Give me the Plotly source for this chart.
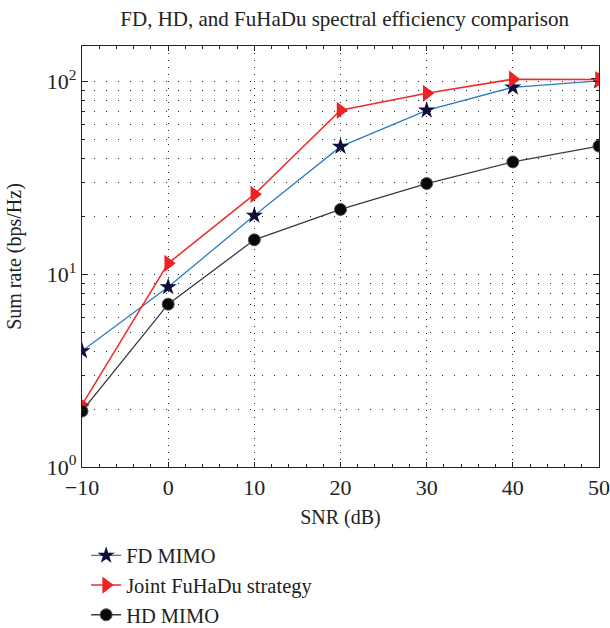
import plotly.graph_objects as go

snr = [-10, 0, 10, 20, 30, 40, 50]
fd_mimo = [4.0, 8.6, 20.2, 46, 71, 93.5, 101]
fuhadu = [2.1, 11.4, 26, 71, 87, 103, 102.5]
hd_mimo = [1.95, 7.0, 15.1, 21.7, 29.6, 38.3, 46.3]

x_ticks = [-10, 0, 10, 20, 30, 40, 50]
y_ticks = [1, 10, 100]
y_ticktext = ["10<sup>0</sup>", "10<sup>1</sup>", "10<sup>2</sup>"]
y_minor = [m * d for d in (1, 10) for m in range(2, 10)]

FONT = "Liberation Serif"

fig = go.Figure()
fig.add_trace(go.Scatter(
    x=snr, y=fd_mimo, name="FD MIMO", mode="lines+markers",
    line=dict(color="#2a7bc4", width=1.3),
    marker=dict(symbol="star", size=13, color="#0d0d3a", line=dict(width=0))))
fig.add_trace(go.Scatter(
    x=snr, y=fuhadu, name="Joint FuHaDu strategy", mode="lines+markers",
    line=dict(color="#ee2a2a", width=1.5),
    marker=dict(symbol="triangle-right", size=15, color="#ee2222", line=dict(width=0))))
fig.add_trace(go.Scatter(
    x=snr, y=hd_mimo, name="HD MIMO", mode="lines+markers",
    line=dict(color="#3a3a3a", width=1.3),
    marker=dict(symbol="circle", size=12, color="#080808", line=dict(color="#555555", width=1))))

fig.update_layout(
    width=610, height=628,
    margin=dict(l=82, r=11, t=46, b=161, autoexpand=False),
    paper_bgcolor="white", plot_bgcolor="white",
    font=dict(family=FONT, size=20, color="#222222"),
    title=dict(text="FD, HD, and FuHaDu spectral efficiency comparison",
               x=0.565, xref="container", xanchor="center",
               y=0.971, yref="container", yanchor="middle",
               font=dict(family=FONT, size=21, color="#222222")),
    showlegend=True,
    legend=dict(x=0.008, xanchor="left", y=-0.163, yanchor="top",
                bgcolor="rgba(0,0,0,0)", font=dict(family=FONT, size=20.5),
                itemwidth=30, tracegroupgap=0),
)

fig.update_xaxes(
    range=[-10, 50], tickvals=x_ticks,
    ticktext=["\u221210"] + [str(v) for v in x_ticks[1:]],
    ticks="inside", ticklen=5, tickcolor="#222", showline=True, linecolor="#222",
    linewidth=1.3, mirror="ticks", automargin=False,
    showgrid=True, gridcolor="#222", griddash="1px,6px", gridwidth=1,
    zeroline=False,
    minor=dict(dtick=2, ticks="inside", ticklen=3, tickcolor="#222", showgrid=False),
    title=dict(text="SNR (dB)", standoff=11, font=dict(family=FONT, size=20)),
    tickfont=dict(family=FONT, size=22),
)
fig.update_yaxes(
    type="log", range=[0, 2.185], tickvals=y_ticks, ticktext=y_ticktext,
    ticks="inside", ticklen=6, tickcolor="#222", showline=True, linecolor="#222",
    linewidth=1.3, mirror="ticks", automargin=False,
    showgrid=True, gridcolor="#222", griddash="1px,11px", gridwidth=1,
    zeroline=False,
    minor=dict(tickmode="array", tickvals=y_minor, ticks="inside", ticklen=3,
               tickcolor="#222", showgrid=True, gridcolor="#222",
               griddash="1px,11px", gridwidth=1),
    title=dict(text="Sum rate (bps/Hz)", standoff=19, font=dict(family=FONT, size=20)),
    tickfont=dict(family=FONT, size=22),
)

fig.write_html("out.html")
